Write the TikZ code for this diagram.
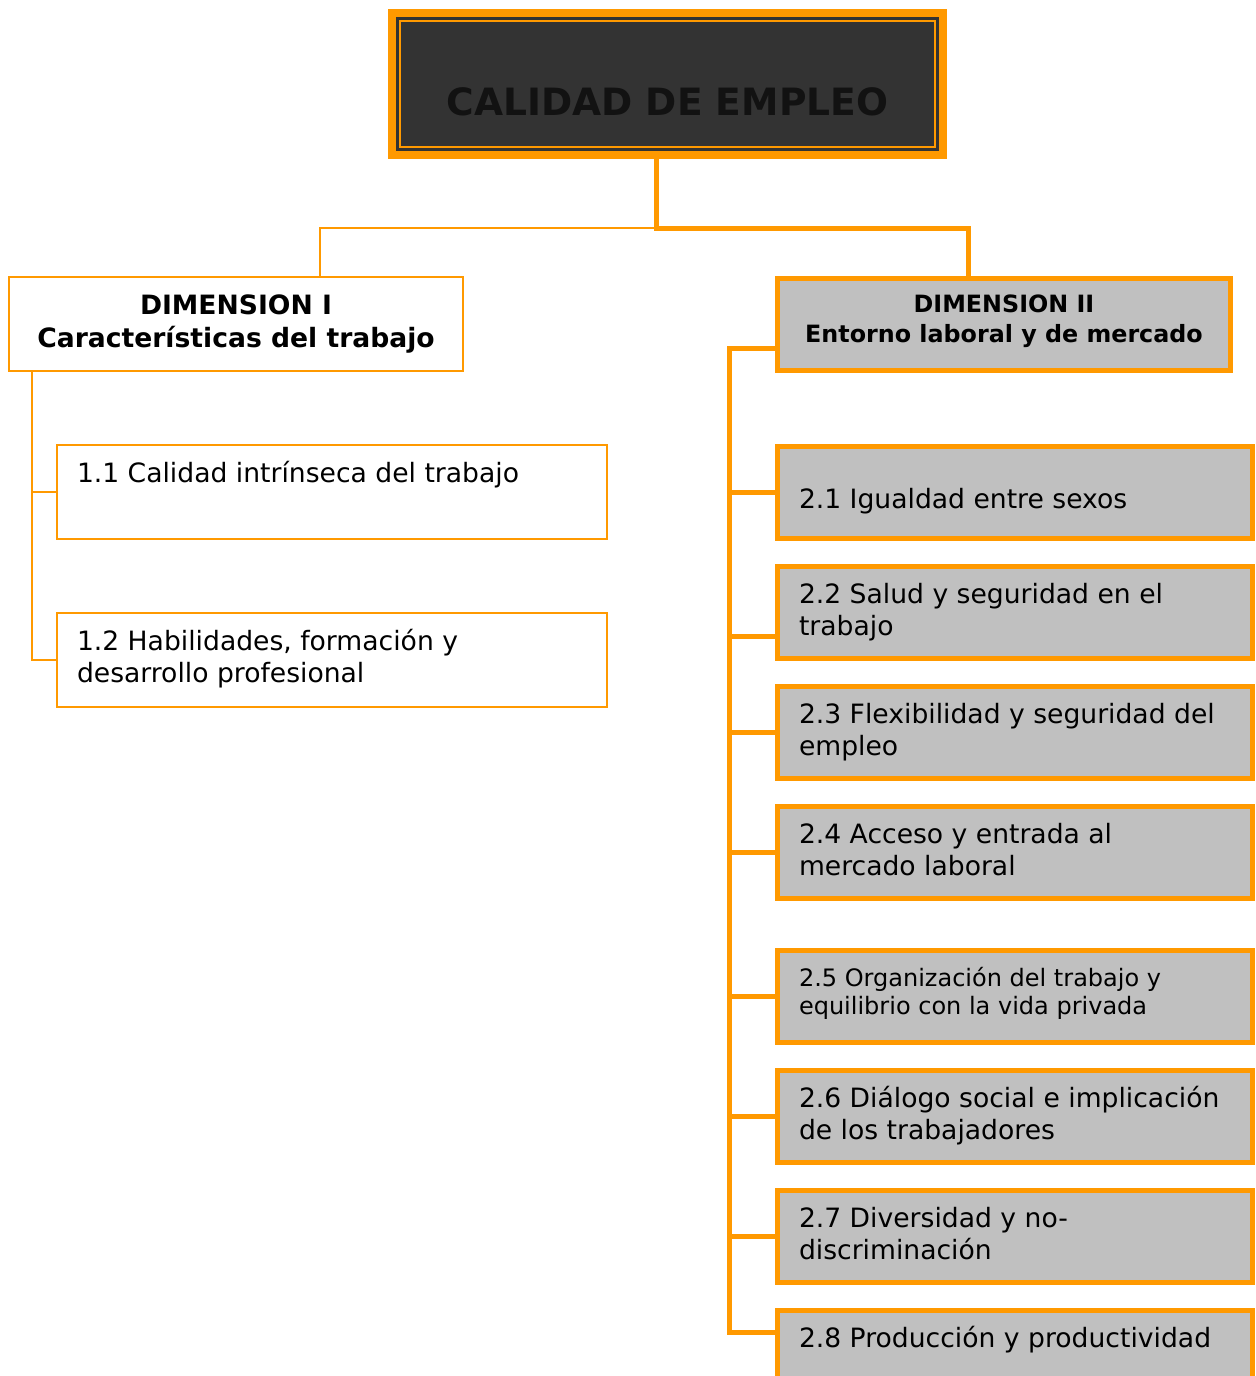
\documentclass[tikz,border=0pt]{standalone}
\usepackage{fontspec}
\setmainfont{DejaVu Sans}
\definecolor{borange}{HTML}{FF9900}
\definecolor{boxgray}{HTML}{C0C0C0}
\definecolor{darkfill}{HTML}{333333}
\definecolor{darktext}{HTML}{121212}
\newcommand{\itemtext}[4][7.4pt]{\begin{minipage}[c][#2][t]{#3}\raggedright\vspace*{#1}\strut#4\end{minipage}}

\begin{document}
\begin{tikzpicture}[x=0.5pt,y=-0.5pt,inner sep=0pt,outer sep=0pt,
thinline/.style={draw=borange,line width=1pt},
thickline/.style={draw=borange,line width=2.5pt},
headblock/.style={draw=borange,line width=4pt,fill=darkfill,minimum width=275.5pt,minimum height=71pt},
dimone/.style={thinline,fill=white,minimum width=227pt,minimum height=47pt,align=center,font=\bfseries\fontsize{13.3}{16.5}\selectfont},
dimtwo/.style={thickline,fill=boxgray,minimum width=226.5pt,minimum height=46pt,align=center,text depth=5.5pt,font=\bfseries\fontsize{11.9}{15}\selectfont},
itemone/.style={thinline,fill=white,minimum width=275pt,minimum height=47pt,inner xsep=8.5pt,font=\fontsize{13.3}{16}\selectfont},
itemtwo/.style={thickline,fill=boxgray,minimum width=237.5pt,minimum height=46pt,inner xsep=10pt,font=\fontsize{13.3}{16}\selectfont}]

\useasboundingbox (0,0) rectangle (1255,1376);
\clip (0,0) rectangle (1255,1376);

\draw (667.5,84) node[headblock,label={[font=\bfseries\fontsize{18.8}{23}\selectfont,text=darktext,yshift=-9pt]center:CALIDAD DE EMPLEO}] (calidad) {};
\draw[borange,line width=0.8pt] ([shift={(3.9pt,-3.9pt)}]calidad.north west) rectangle ([shift={(-3.9pt,3.9pt)}]calidad.south east);

\draw (236,324) node[dimone] (dimI) {DIMENSION I\\Características del trabajo};
\draw (1004,324.5) node[dimtwo] (dimII) {DIMENSION II\\Entorno laboral y de mercado};

\draw (332,492) node[itemone] (q11) {\itemtext{47pt}{255pt}{1.1 Calidad intrínseca del trabajo}};
\draw (332,660) node[itemone] (q12) {\itemtext{47pt}{255pt}{1.2 Habilidades, formación y\\desarrollo profesional}};

\draw (1015,492.5) node[itemtwo] (q21) {\itemtext[20pt]{46pt}{216pt}{2.1 Igualdad entre sexos}};
\draw (1015,612.5) node[itemtwo] (q22) {\itemtext{46pt}{216pt}{2.2 Salud y seguridad en el\\trabajo}};
\draw (1015,732.5) node[itemtwo] (q23) {\itemtext{46pt}{216pt}{2.3 Flexibilidad y seguridad del\\empleo}};
\draw (1015,852.5) node[itemtwo] (q24) {\itemtext{46pt}{216pt}{2.4 Acceso y entrada al\\mercado laboral}};
\draw (1015,996.5) node[itemtwo,font=\fontsize{12}{14}\selectfont] (q25) {\itemtext[8pt]{46pt}{216pt}{2.5 Organización del trabajo y\\equilibrio con la vida privada}};
\draw (1015,1116.5) node[itemtwo] (q26) {\itemtext{46pt}{216pt}{2.6 Diálogo social e implicación\\de los trabajadores}};
\draw (1015,1236.5) node[itemtwo] (q27) {\itemtext{46pt}{216pt}{2.7 Diversidad y no-\\discriminación}};
\draw (1015,1356.5) node[itemtwo] (q28) {\itemtext{46pt}{216pt}{2.8 Producción y productividad}};

\coordinate (split) at (656,228);
\draw[thickline] (calidad.south -| split) -- (split) -| ([xshift=-18pt]dimII.north);
\draw[thinline] (split) -| ([xshift=42pt]dimI.north);

\coordinate (ltrunk) at (32,660);
\draw[thinline] (dimI.south -| ltrunk) |- (q12.west);
\draw[thinline] (q11.west) -- (q11.west -| ltrunk);

\coordinate (rtrunk) at (729,1332);
\draw[thickline] ([yshift=-11.75pt]dimII.west) -| (rtrunk) -- ([yshift=12.25pt]q28.west);
\draw[thickline] ([yshift=-11.75pt]q22.west) -- ([yshift=-11.75pt]q22.west -| rtrunk);
\foreach \n in {21,23,24,25,26,27}
  \draw[thickline] (q\n.west) -- (q\n.west -| rtrunk);
\end{tikzpicture}
\end{document}
